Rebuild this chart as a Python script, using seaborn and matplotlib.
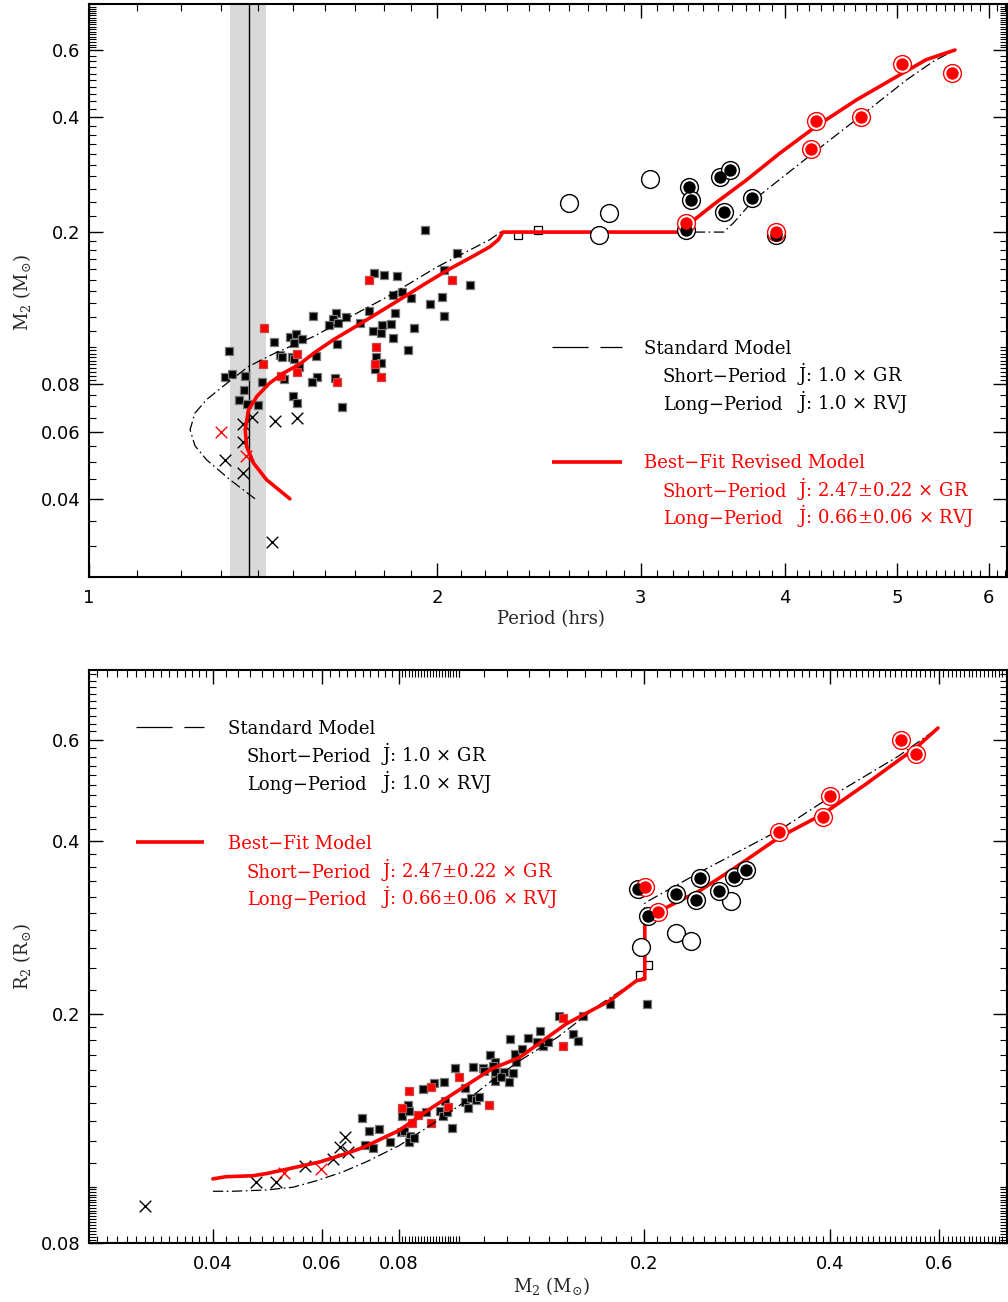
import numpy as np
import matplotlib
matplotlib.use('Agg')
import matplotlib.pyplot as plt
import seaborn as sns
from matplotlib.ticker import FixedLocator, NullFormatter

sns.set_style('ticks')
plt.rcParams['font.family'] = ['DejaVu Serif']
plt.rcParams['mathtext.fontset'] = 'dejavuserif'
plt.rcParams['lines.scale_dashes'] = False

RED = '#ff0000'

# ---------------- TOP PANEL DATA: Period (hrs) vs M2 ----------------
top_sq_P = [1.953, 2.083, 1.765, 1.80, 1.847, 2.03, 2.138, 1.831, 1.867, 1.899, 1.972, 2.02, 2.03,
            1.747, 1.838, 1.759, 1.788, 1.794, 1.824, 1.717, 1.91, 1.834, 1.886, 1.773, 1.788, 1.768,
            1.654, 1.563, 1.635, 1.627, 1.641, 1.614, 1.670, 1.639, 1.572, 1.574, 1.558, 1.632,
            1.492, 1.51, 1.529, 1.504, 1.447, 1.322, 1.463, 1.468, 1.499, 1.504, 1.519, 1.476,
            1.311, 1.329, 1.365, 1.411, 1.362, 1.347, 1.37, 1.40, 1.501, 1.514]
top_sq_M = [0.202, 0.176, 0.156, 0.154, 0.153, 0.159, 0.145, 0.137, 0.139, 0.134, 0.1295, 0.135, 0.1206,
            0.124, 0.1227, 0.110, 0.109, 0.114, 0.115, 0.1155, 0.112, 0.1055, 0.098, 0.0944, 0.091, 0.0875,
            0.0697, 0.1206, 0.1227, 0.1185, 0.1155, 0.1145, 0.1195, 0.102, 0.0948, 0.0834, 0.0807, 0.083,
            0.1064, 0.1082, 0.1048, 0.1023, 0.1033, 0.0975, 0.0954, 0.0942, 0.0944, 0.0929, 0.0885, 0.0825,
            0.0836, 0.085, 0.084, 0.081, 0.0772, 0.0724, 0.0708, 0.0705, 0.0742, 0.0715]
top_rsq_P = [1.747, 2.062, 1.773, 1.767, 1.788, 1.638, 1.417, 1.513, 1.514, 1.413, 1.466]
top_rsq_M = [0.150, 0.150, 0.100, 0.0903, 0.0832, 0.081, 0.112, 0.096, 0.0859, 0.090, 0.0841]
top_osq_P = [2.349, 2.446]
top_osq_M = [0.196, 0.202]
top_x_P = [1.384, 1.448, 1.514, 1.36, 1.36, 1.31, 1.36, 1.44]
top_x_M = [0.0655, 0.064, 0.0652, 0.0628, 0.0563, 0.0506, 0.0467, 0.0309]
top_rx_P = [1.302, 1.367]
top_rx_M = [0.060, 0.0519]
top_oc_P = [3.057, 2.601, 2.815, 2.763]
top_oc_M = [0.275, 0.238, 0.225, 0.197]
top_bc_P = [3.304, 3.318, 3.515, 3.585, 3.745, 3.54, 3.284, 3.928]
top_bc_M = [0.263, 0.242, 0.279, 0.291, 0.246, 0.226, 0.202, 0.197]
top_rc_P = [3.284, 3.928, 4.253, 4.214, 4.654, 5.046, 5.576]
top_rc_M = [0.211, 0.200, 0.390, 0.331, 0.401, 0.552, 0.522]

# standard model (dash-dot) and best-fit revised model (red)
std_P = [1.392, 1.324, 1.264, 1.235, 1.223, 1.235, 1.264, 1.307, 1.374, 1.45, 1.563, 1.738, 1.809,
         2.0, 2.222, 2.27, 3.54, 3.608, 3.76, 4.23, 4.64, 5.10, 5.375, 5.61]
std_M = [0.040, 0.0449, 0.0506, 0.0551, 0.0607, 0.0671, 0.0728, 0.079, 0.0889, 0.0965, 0.1064, 0.1265, 0.135,
         0.162, 0.191, 0.200, 0.200, 0.211, 0.243, 0.322, 0.4005, 0.5018, 0.560, 0.600]
fit_P = [1.492, 1.424, 1.388, 1.369, 1.365, 1.374, 1.397, 1.433, 1.473, 1.52, 1.57, 1.627, 1.70, 1.78,
         1.858, 1.95, 2.05, 2.15, 2.222, 2.26, 2.28, 3.27, 3.284, 3.468, 3.707, 3.96, 4.253, 4.615,
         5.03, 5.30, 5.612]
fit_M = [0.040, 0.0449, 0.0496, 0.0548, 0.0607, 0.0684, 0.0742, 0.0804, 0.0854, 0.090, 0.097, 0.1044,
         0.113, 0.123, 0.1332, 0.146, 0.160, 0.173, 0.183, 0.191, 0.200, 0.200, 0.207, 0.236, 0.2742,
         0.322, 0.378, 0.4445, 0.5169, 0.566, 0.600]
PMIN = 1.374
PMIN_LO, PMIN_HI = 1.324, 1.422

# ---------------- BOTTOM PANEL DATA: M2 vs R2 ----------------
bot_sq_M = [0.0697, 0.0716, 0.0743, 0.0705, 0.0727, 0.0773, 0.0810, 0.0828, 0.083, 0.0806, 0.0815, 0.0835,
            0.0831, 0.0846, 0.0876, 0.0913, 0.0946, 0.0885, 0.0932, 0.0950, 0.0944, 0.0958, 0.0976, 0.0986,
            0.1023, 0.1023, 0.1036, 0.1049, 0.1069, 0.1079, 0.1055, 0.1095, 0.1100, 0.1123, 0.1144, 0.1139,
            0.1146, 0.1144, 0.1183, 0.1173, 0.1207, 0.1225, 0.1211, 0.1235, 0.1269, 0.124, 0.1297, 0.1353,
            0.134, 0.137, 0.1396, 0.1452, 0.1534, 0.1563, 0.1592, 0.1758, 0.2021]
bot_sq_R = [0.1319, 0.1253, 0.1262, 0.1185, 0.117, 0.1196, 0.1331, 0.1386, 0.1355, 0.1245, 0.125, 0.1229,
            0.1196, 0.1217, 0.1482, 0.1515, 0.1525, 0.1349, 0.1358, 0.1413, 0.1331, 0.1349, 0.1267, 0.1609,
            0.1487, 0.1404, 0.1373, 0.1426, 0.1419, 0.1432, 0.1615, 0.1609, 0.1594, 0.1696, 0.1652, 0.1626,
            0.1582, 0.1531, 0.1582, 0.1551, 0.1525, 0.1576, 0.1809, 0.1703, 0.1739, 0.1648, 0.1817, 0.1871,
            0.179, 0.1762, 0.179, 0.1987, 0.1846, 0.1797, 0.1987, 0.2081, 0.208]
bot_rsq_M = [0.083, 0.0901, 0.1003, 0.0811, 0.0861, 0.0842, 0.0901, 0.0961, 0.112, 0.1475, 0.1475]
bot_rsq_R = [0.1467, 0.1495, 0.1554, 0.1373, 0.1334, 0.1294, 0.129, 0.138, 0.1391, 0.1968, 0.1757]
bot_osq_M = [0.1971, 0.2028]
bot_osq_R = [0.2342, 0.243]
bot_x_M = [0.0311, 0.0469, 0.0506, 0.0563, 0.0626, 0.0642, 0.0654, 0.0662]
bot_x_R = [0.0928, 0.1019, 0.1019, 0.1087, 0.1117, 0.1172, 0.122, 0.1149]
bot_rx_M = [0.0521, 0.0599]
bot_rx_R = [0.1059, 0.1075]
bot_oc_M = [0.2758, 0.2248, 0.2377, 0.1978]
bot_oc_R = [0.3139, 0.2766, 0.2675, 0.2619]
bot_bc_M = [0.2459, 0.2254, 0.2423, 0.2637, 0.2793, 0.2917, 0.2028, 0.1953]
bot_bc_R = [0.3447, 0.3233, 0.3161, 0.3267, 0.3456, 0.3561, 0.2965, 0.330]
bot_rc_M = [0.521, 0.5507, 0.4002, 0.3896, 0.3307, 0.2105, 0.2003]
bot_rc_R = [0.599, 0.5666, 0.4796, 0.4393, 0.4139, 0.3004, 0.3321]

bstd_M = [0.040, 0.043, 0.0488, 0.0539, 0.0588, 0.0649, 0.0709, 0.0801, 0.0908, 0.1029, 0.1132, 0.1257,
          0.1447, 0.1697, 0.1941, 0.200, 0.200, 0.2012, 0.2459, 0.3315, 0.4035, 0.5148, 0.598]
bstd_R = [0.0983, 0.0983, 0.0988, 0.0999, 0.1025, 0.1062, 0.1106, 0.118, 0.1288, 0.1412, 0.1531, 0.1659,
          0.1822, 0.208, 0.2284, 0.232, 0.311, 0.3128, 0.3528, 0.418, 0.4796, 0.5608, 0.6286]
bfit_M = [0.040, 0.042, 0.0464, 0.0488, 0.0519, 0.0597, 0.0656, 0.0701, 0.0801, 0.0908, 0.1132, 0.1257,
          0.1493, 0.1757, 0.1941, 0.2003, 0.2003, 0.2105, 0.2459, 0.2786, 0.3307, 0.3896, 0.4573, 0.5514, 0.5979]
bfit_R = [0.1033, 0.1042, 0.1046, 0.1055, 0.107, 0.1106, 0.1142, 0.1172, 0.1254, 0.1377, 0.1605, 0.1681,
          0.1921, 0.2108, 0.2284, 0.230, 0.3004, 0.3013, 0.3276, 0.3575, 0.4058, 0.4455, 0.5024, 0.5816, 0.6286]

# ---------------- FIGURE ----------------
W, H = 1008, 1302
fig = plt.figure(figsize=(W / 100, H / 100), dpi=100)


def rect(l, t, r, b):
    return [l / W, 1 - b / H, (r - l) / W, (b - t) / H]


T1 = (89, 4, 1007, 576.7)
T2 = (89, 670, 1007, 1242.7)
ax1 = fig.add_axes(rect(*T1))
ax2 = fig.add_axes(rect(*T2))

DASHDOT = (0, (7.5, 2.5, 1.2, 2.5))


def squares(ax, x, y, color, edge):
    sns.scatterplot(x=x, y=y, marker='s', s=34, color=color, edgecolor=edge,
                    linewidth=0.9, ax=ax, zorder=3, legend=False)


def open_squares(ax, x, y):
    sns.scatterplot(x=x, y=y, marker='s', s=26, facecolor='white', edgecolor='black',
                    linewidth=0.9, ax=ax, zorder=3, legend=False)


def crosses(ax, x, y, color):
    sns.scatterplot(x=x, y=y, marker='x', s=70, color=color, linewidth=1.0, ax=ax,
                    zorder=3, legend=False)


def rings(ax, x, y, color, filled):
    sns.scatterplot(x=x, y=y, marker='o', s=165, facecolor='white', edgecolor=color,
                    linewidth=1.0, ax=ax, zorder=5, legend=False)
    if filled:
        sns.scatterplot(x=x, y=y, marker='o', s=80, color=color, linewidth=0,
                        ax=ax, zorder=6, legend=False)


def model_lines(ax, sx, sy, fx, fy):
    sns.lineplot(x=sx, y=sy, sort=False, estimator=None, color='black', linewidth=0.9,
                 linestyle=DASHDOT, ax=ax, zorder=4, legend=False)
    sns.lineplot(x=fx, y=fy, sort=False, estimator=None, color=RED, linewidth=2.6,
                 ax=ax, zorder=4, legend=False)


# --- top panel ---
ax1.set_xscale('log')
ax1.set_yscale('log')
ax1.axvspan(PMIN_LO, PMIN_HI, color='#d9d9d9', lw=0, zorder=0)
ax1.axvline(PMIN, color='black', lw=1.0, zorder=1)
squares(ax1, top_sq_P, top_sq_M, 'black', '#777777')
squares(ax1, top_rsq_P, top_rsq_M, RED, '#cc4444')
open_squares(ax1, top_osq_P, top_osq_M)
crosses(ax1, top_x_P, top_x_M, 'black')
crosses(ax1, top_rx_P, top_rx_M, RED)
model_lines(ax1, std_P, std_M, fit_P, fit_M)
rings(ax1, top_oc_P, top_oc_M, 'black', False)
rings(ax1, top_bc_P, top_bc_M, 'black', True)
rings(ax1, top_rc_P, top_rc_M, RED, True)
ax1.set_xlim(1, 6.225)
ax1.set_ylim(0.025, 0.792)

# --- bottom panel ---
ax2.set_xscale('log')
ax2.set_yscale('log')
squares(ax2, bot_sq_M, bot_sq_R, 'black', '#777777')
squares(ax2, bot_rsq_M, bot_rsq_R, RED, '#cc4444')
open_squares(ax2, bot_osq_M, bot_osq_R)
crosses(ax2, bot_x_M, bot_x_R, 'black')
crosses(ax2, bot_rx_M, bot_rx_R, RED)
model_lines(ax2, bstd_M, bstd_R, bfit_M, bfit_R)
rings(ax2, bot_oc_M, bot_oc_R, 'black', False)
rings(ax2, bot_bc_M, bot_bc_R, 'black', True)
rings(ax2, bot_rc_M, bot_rc_R, RED, True)
ax2.set_xlim(0.0252, 0.7734)
ax2.set_ylim(0.08, 0.793)


# --- ticks ---
def minor(parts, majors):
    vals = np.concatenate(parts)
    return [v for v in vals if not any(abs(v - m) < 1e-6 for m in majors)]


top_x_major = [1, 2, 3, 4, 5, 6]
top_y_major = [0.04, 0.06, 0.08, 0.2, 0.4, 0.6]
bot_x_major = [0.04, 0.06, 0.08, 0.2, 0.4, 0.6]
bot_y_major = [0.08, 0.2, 0.4, 0.6]


def set_ticks(axis, major, labels, minors):
    axis.set_major_locator(FixedLocator(major))
    axis.set_minor_locator(FixedLocator(minors))
    axis.set_minor_formatter(NullFormatter())
    axis.set_ticks(major, labels)
    for t in axis.get_ticklabels():
        t.set_fontfamily('DejaVu Sans')
        t.set_fontsize(13)


set_ticks(ax1.xaxis, top_x_major, ['1', '2', '3', '4', '5', '6'],
          minor([np.arange(1.1, 6.25, 0.1)], top_x_major))
set_ticks(ax1.yaxis, top_y_major, ['0.04', '0.06', '0.08', '0.2', '0.4', '0.6'],
          minor([np.arange(0.025, 0.0801, 0.005), np.arange(0.082, 0.1, 0.002),
                 np.arange(0.1, 0.2, 0.01), np.arange(0.22, 0.6, 0.02), np.arange(0.61, 0.79, 0.01)],
                top_y_major))
set_ticks(ax2.xaxis, bot_x_major, ['0.04', '0.06', '0.08', '0.2', '0.4', '0.6'],
          minor([np.arange(0.026, 0.04, 0.001), np.arange(0.042, 0.08, 0.002),
                 np.arange(0.081, 0.1, 0.001), np.arange(0.1, 0.2, 0.01), np.arange(0.21, 0.77, 0.01)],
                bot_x_major))
set_ticks(ax2.yaxis, bot_y_major, ['0.08', '0.2', '0.4', '0.6'],
          minor([np.arange(0.081, 0.1, 0.001), np.arange(0.1, 0.2, 0.01), np.arange(0.22, 0.79, 0.02)],
                bot_y_major))

for ax in (ax1, ax2):
    ax.tick_params(which='both', direction='in', top=True, right=True, colors='black')
    ax.tick_params(which='major', length=10, width=1.0)
    ax.tick_params(which='minor', length=5, width=0.8)
    ax.tick_params(axis='x', which='major', pad=9)
    ax.tick_params(axis='y', which='major', pad=6)
    for s in ax.spines.values():
        s.set_linewidth(1.5)
        s.set_color('black')
    ax.set_xlabel('')
    ax.set_ylabel('')

# --- axis labels ---
LAB = dict(fontsize=13, family='DejaVu Serif')


def fx(box, px):
    return (px - box[0]) / (box[2] - box[0])


def fy(box, py):
    return (box[3] - py) / (box[3] - box[1])


ax1.text(fx(T1, 551), fy(T1, 619), 'Period (hrs)', transform=ax1.transAxes,
         ha='center', va='center', **LAB)
ax1.text(fx(T1, 22), fy(T1, 292), r'$\mathrm{M_2\ (M_{\odot})}$', transform=ax1.transAxes,
         ha='center', va='center', rotation=90, **LAB)
ax2.text(fx(T2, 552), fy(T2, 1286), r'$\mathrm{M_2\ (M_{\odot})}$', transform=ax2.transAxes,
         ha='center', va='center', **LAB)
ax2.text(fx(T2, 22), fy(T2, 956), r'$\mathrm{R_2\ (R_{\odot})}$', transform=ax2.transAxes,
         ha='center', va='center', rotation=90, **LAB)

# --- legends (manual, as in the original) ---
LEG = dict(fontsize=13, family='DejaVu Serif')
JD = r'$\dot{\mathrm{J}}$: '


def legend_block(ax, box, x_line0, x_line1, x_title, x_sub, x_j, y_std, y_fit, dy1, dy2, fit_title):
    # standard model sample: long dash, gap, short dash
    ax.plot([fx(box, x_line0), fx(box, x_line1)], [fy(box, y_std)] * 2, transform=ax.transAxes,
            color='black', lw=0.9, linestyle=(0, (26, 8.5, 16, 100)), clip_on=False)
    ax.plot([fx(box, x_line0), fx(box, x_line1)], [fy(box, y_fit)] * 2, transform=ax.transAxes,
            color=RED, lw=2.6, solid_capstyle='butt', clip_on=False)
    rows = [
        (y_std, 'Standard Model', None, 'black', x_title),
        (y_std + dy1, 'Short\u2212Period', JD + '1.0 \u00d7 GR', 'black', x_sub),
        (y_std + dy2, 'Long\u2212Period', JD + '1.0 \u00d7 RVJ', 'black', x_sub),
        (y_fit, fit_title, None, RED, x_title),
        (y_fit + dy1, 'Short\u2212Period', JD + '2.47\u00b10.22 \u00d7 GR', RED, x_sub),
        (y_fit + dy2, 'Long\u2212Period', JD + '0.66\u00b10.06 \u00d7 RVJ', RED, x_sub),
    ]
    for yc, s1, s2, col, x0 in rows:
        yb = fy(box, yc + 6.5)
        ax.text(fx(box, x0), yb, s1, transform=ax.transAxes, color=col, ha='left',
                va='baseline', **LEG)
        if s2:
            ax.text(fx(box, x_j), yb, s2, transform=ax.transAxes, color=col, ha='left',
                    va='baseline', **LEG)


legend_block(ax1, T1, 552, 622, 644, 663, 797, 347.3, 461.7, 28.7, 56, 'Best\u2212Fit Revised Model')
legend_block(ax2, T2, 135.7, 204.3, 228.3, 246.7, 381, 727.3, 842.3, 28.7, 56, 'Best\u2212Fit Model')

fig.savefig('out.png', dpi=100)
